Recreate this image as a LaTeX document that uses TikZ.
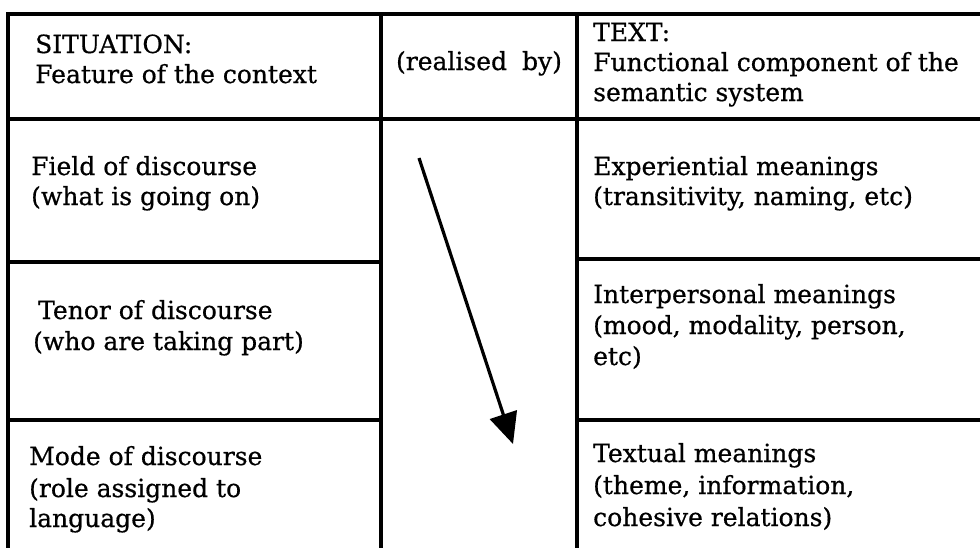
\documentclass[tikz,border=0pt]{standalone}
\usepackage{fontspec}
\setmainfont{DejaVu Serif}[FakeBold=0.6]
\usetikzlibrary{arrows.meta}
\begin{document}
\begin{tikzpicture}[x=1pt,y=-1pt,
  rule/.style={line width=3.2pt, line cap=rect},
  txt/.style={anchor=base west, inner sep=0pt, font=\fontsize{25}{31}\selectfont},
  ctxt/.style={anchor=base, inner sep=0pt, font=\fontsize{25}{31}\selectfont},
  realarrow/.style={line width=3.2pt, -{Triangle[length=31pt,width=28pt]}}]
\useasboundingbox (0,0) rectangle (980,547);
\fill[white] (0,0) rectangle (980,547);
% grid
\draw[rule] (8,547) -- (8,14) -- (980,14);
\draw[rule] (8,119) -- (980,119);
\draw[rule] (381,14) -- (381,547);
\draw[rule] (577,14) -- (577,547);
\draw[rule] (8,262) -- (381,262);
\draw[rule] (8,420) -- (381,420);
\draw[rule] (577,259) -- (980,259);
\draw[rule] (577,420) -- (980,420);
% header
\node[txt] (sit1) at (35,53) {SITUATION:};
\node[txt] (sit2) at (35,83) {Feature of the context};
\node[ctxt] (real) at (479,70) {(realised\hspace{0.6em}by)};
\node[txt] (text1) at (593,41) {TEXT:};
\node[txt] (text2) at (593,71) {Functional component of the};
\node[txt] (text3) at (593,101) {semantic system};
% left column
\node[txt] (field1) at (31,175) {Field of discourse};
\node[txt] (field2) at (31,205) {(what is going on)};
\node[txt] (tenor1) at (38,319) {Tenor of discourse};
\node[txt] (tenor2) at (33,350) {(who are taking part)};
\node[txt] (mode1) at (29,465) {Mode of discourse};
\node[txt] (mode2) at (29,497) {(role assigned to};
\node[txt] (mode3) at (29,527) {language)};
% right column
\node[txt] (exp1) at (593,175) {Experiential meanings};
\node[txt] (exp2) at (593,205) {(transitivity, naming, etc)};
\node[txt] (int1) at (593,303) {Interpersonal meanings};
\node[txt] (int2) at (593,334) {(mood, modality, person,};
\node[txt] (int3) at (593,365) {etc)};
\node[txt] (tex1) at (593,462) {Textual meanings};
\node[txt] (tex2) at (593,494) {(theme, information,};
\node[txt] (tex3) at (593,526) {cohesive relations)};
% arrow
\coordinate (astart) at (419,158);
\coordinate (aend) at (513,444);
\draw[realarrow] (astart) -- (aend);
\end{tikzpicture}
\end{document}
